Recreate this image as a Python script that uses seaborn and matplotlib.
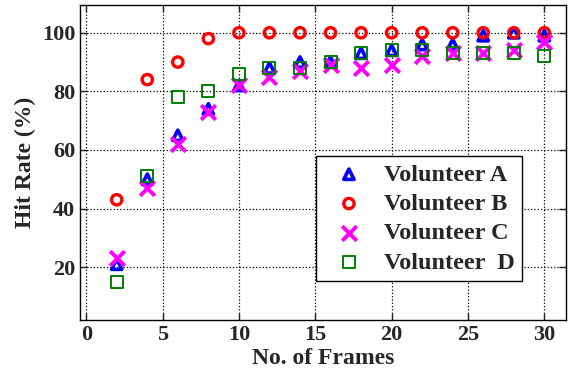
import matplotlib
matplotlib.use("Agg")
import matplotlib.pyplot as plt
import seaborn as sns
import pandas as pd

frames = [2, 4, 6, 8, 10, 12, 14, 16, 18, 20, 22, 24, 26, 28, 30]
vol_a = [21, 50, 65, 74, 82, 88, 90, 90, 93, 94, 96, 96, 99, 100, 99]
vol_b = [43, 84, 90, 98, 100, 100, 100, 100, 100, 100, 100, 100, 100, 100, 100]
vol_c = [23, 47, 62, 73, 82, 85, 87, 89, 88, 89, 92, 93, 93, 94, 97]
vol_d = [15, 51, 78, 80, 86, 88, 88, 90, 93, 94, 94, 93, 93, 93, 92]
labels = ["Volunteer A", "Volunteer B", "Volunteer C", "Volunteer  D"]
x_ticks = [0, 5, 10, 15, 20, 25, 30]
y_ticks = [20, 40, 60, 80, 100]

sns.set_style("ticks")
plt.rcParams["font.family"] = ["Liberation Serif", "DejaVu Serif"]
plt.rcParams["font.weight"] = "bold"

fig = plt.figure(figsize=(5.68, 3.79), dpi=100)
ax = fig.add_axes([0.141, 0.156, 0.855, 0.831])

styles = [
    dict(marker="^", color="blue", s=55, lw=2.6, face="none"),
    dict(marker="o", color="red", s=55, lw=2.4, face="none"),
    dict(marker="x", color="magenta", s=110, lw=2.8, face=None),
    dict(marker="s", color="green", s=75, lw=1.4, face="none"),
]
series = [vol_a, vol_b, vol_c, vol_d]
for vals, lab, st in zip(series, labels, styles):
    df = pd.DataFrame({"frames": frames, "rate": vals})
    kw = dict(marker=st["marker"], s=st["s"], linewidth=st["lw"], label=lab)
    if st["face"] is None:
        kw["color"] = st["color"]
    else:
        kw["facecolor"] = "none"
        kw["edgecolor"] = st["color"]
    sns.scatterplot(data=df, x="frames", y="rate", ax=ax, zorder=3, **kw)

ax.set_xlim(-0.4, 31.4)
ax.set_ylim(2, 109.5)
ax.set_xticks(x_ticks)
ax.set_yticks(y_ticks)
ax.grid(True, color="black", linestyle=":", linewidth=0.9)
ax.tick_params(direction="in", top=True, right=True, labelsize=16, length=5, width=1)
for lab in ax.get_xticklabels() + ax.get_yticklabels():
    lab.set_fontweight("bold")
for sp in ax.spines.values():
    sp.set_visible(True)
    sp.set_linewidth(1.0)
    sp.set_color("black")

ax.set_xlabel("No. of Frames", fontsize=17, fontweight="bold", labelpad=2)
ax.set_ylabel("Hit Rate (%)", fontsize=17, fontweight="bold", labelpad=4)

leg = ax.legend(loc="lower left", bbox_to_anchor=(0.486, 0.124), borderaxespad=0,
                frameon=True, fancybox=False, edgecolor="black", framealpha=1,
                handletextpad=0.4, labelspacing=0.3, borderpad=0.3,
                handlelength=2.1, prop={"weight": "bold", "size": 17.5})
leg.get_frame().set_linewidth(1.0)
fig.canvas.draw()
# widen the frame to give the right-side padding of the original legend box
frame = leg.get_frame()
frame.set_width(frame.get_width() + 14)

fig.savefig("out.png", dpi=100)
